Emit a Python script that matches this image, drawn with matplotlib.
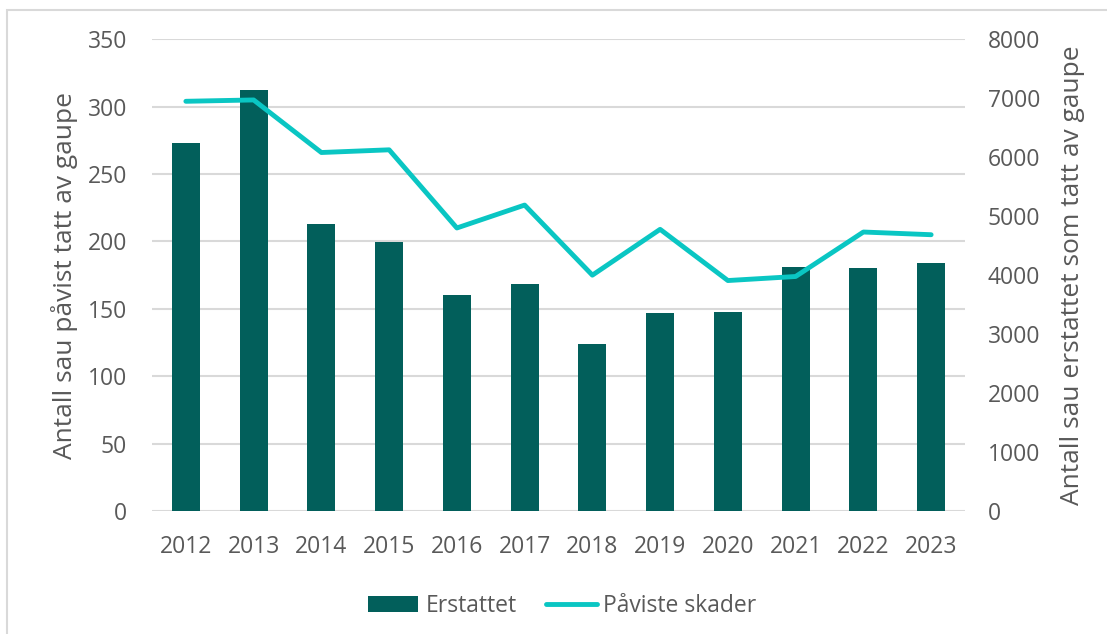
import matplotlib.pyplot as plt
from matplotlib.patches import Rectangle

# --- Data ----------------------------------------------------------------------
years = ["2012", "2013", "2014", "2015", "2016", "2017",
         "2018", "2019", "2020", "2021", "2022", "2023"]
erstattet = [6240, 7140, 4870, 4560, 3660, 3850, 2830, 3360, 3380, 4140, 4120, 4210]
paviste = [304, 305, 266, 268, 210, 227, 175, 209, 171, 174, 207, 205]

left_ticks = [0, 50, 100, 150, 200, 250, 300, 350]
right_ticks = [0, 1000, 2000, 3000, 4000, 5000, 6000, 7000, 8000]

# --- Style ---------------------------------------------------------------------
plt.rcParams['font.family'] = ['Open Sans', 'DejaVu Sans']
text_col = '#595959'
bar_col = '#025F5B'
line_col = '#0AC6C3'
grid_col = '#D9D9D9'
fs = 16.5
fs_label = 19

fig = plt.figure(figsize=(11.07, 6.34), dpi=100)
fig.patches.append(Rectangle((7 / 1107, -0.1), 1.2, 1.1 - 10 / 634,
                             transform=fig.transFigure, fill=False,
                             edgecolor='#D9D9D9', linewidth=1.5))

ax_bar = fig.add_axes([152 / 1107, 1 - 511 / 634, 813 / 1107, 471.7 / 634])
ax_line = ax_bar.twinx()

x = range(len(years))

# bars on the right-hand scale, drawn in the lower axes
ax_bar.bar(x, erstattet, width=0.41, color=bar_col, zorder=2, label='Erstattet')
ax_bar.set_ylim(0, 8000)
for v in left_ticks:
    ax_bar.axhline(v * 8000 / 350, color=grid_col, linewidth=1.5, zorder=0)

# line on the left-hand scale, drawn in the upper axes
ax_line.plot(x, paviste, color=line_col, linewidth=3.5, solid_capstyle='round',
             solid_joinstyle='round', zorder=3, label='Påviste skader')
ax_line.set_ylim(0, 350)

ax_bar.set_xlim(-0.5, len(years) - 0.5)
ax_bar.set_xticks(list(x))
ax_bar.set_xticklabels(years)

# swap sides: bar scale right, line scale left
ax_bar.yaxis.tick_right()
ax_line.yaxis.tick_left()
ax_bar.set_yticks(right_ticks)
ax_line.set_yticks(left_ticks)

ax_bar.tick_params(axis='x', length=0, pad=17, labelsize=fs, labelcolor=text_col)
ax_bar.tick_params(axis='y', length=0, pad=16.5, labelsize=fs, labelcolor=text_col)
ax_line.tick_params(axis='y', length=0, pad=18, labelsize=fs, labelcolor=text_col)

for a in (ax_bar, ax_line):
    for s in a.spines.values():
        s.set_visible(False)

ax_line.set_ylabel("Antall sau påvist tatt av gaupe", fontsize=fs_label, color=text_col)
ax_line.yaxis.set_label_position('left')
ax_line.yaxis.set_label_coords(-0.091, 0.5)

ax_bar.set_ylabel("Antall sau erstattet som tatt av gaupe", fontsize=fs_label, color=text_col)
ax_bar.yaxis.set_label_position('right')
ax_bar.yaxis.set_label_coords(1.117, 0.5)

# --- Legend --------------------------------------------------------------------
h1, l1 = ax_bar.get_legend_handles_labels()
h2, l2 = ax_line.get_legend_handles_labels()
leg = fig.legend(h1 + h2, l1 + l2, loc='center', bbox_to_anchor=(0.508, 1 - 606 / 634),
                 ncol=2, frameon=False, fontsize=fs, handlelength=2.2,
                 handletextpad=0.3, columnspacing=1.3)
for t in leg.get_texts():
    t.set_color(text_col)

fig.savefig("out.png", dpi=100)
